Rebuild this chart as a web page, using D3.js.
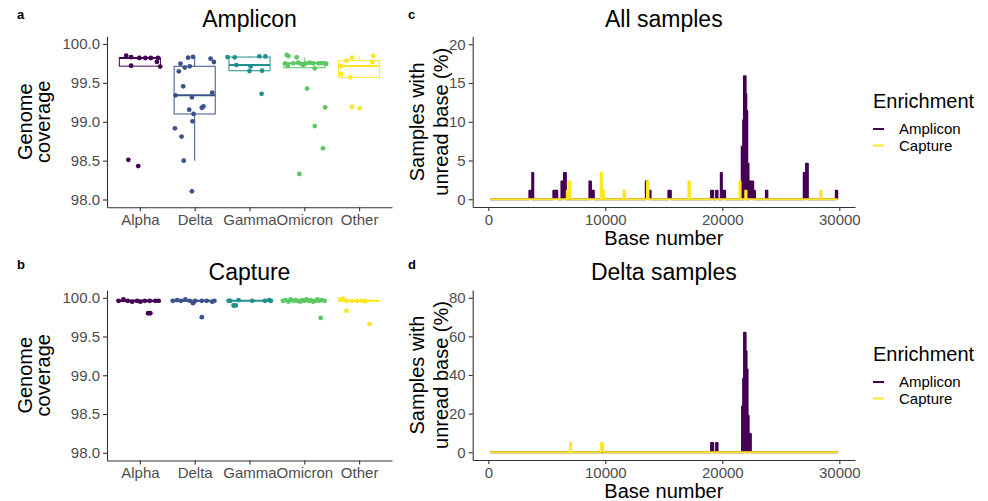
<!DOCTYPE html>
<html>
<head>
<meta charset="utf-8">
<script src="https://cdn.jsdelivr.net/npm/d3@7"></script>
<style>
  html, body { margin: 0; padding: 0; background: #fff; }
  svg { display: block; font-family: "Liberation Sans", Arial, sans-serif; }
</style>
</head>
<body>
<div id="chart"></div>
<script>
const width = 988;
const height = 501;

// Box plot data: genome coverage (%) per variant, one array per variant
const variants = ["Alpha", "Delta", "Gamma", "Omicron", "Other"];
const variantColors = ["#440154", "#3B528B", "#21908C", "#5DC863", "#FDE725"];

const ampliconCoverage = [
  [99.85, 99.83, 99.72, 99.82, 99.82, 99.82, 99.82, 99.77, 99.71, 98.51, 98.43],
  [99.824, 99.833, 99.811, 99.768, 99.747, 99.696, 99.713, 99.648, 99.455, 99.34, 99.314,
   99.374, 99.155, 99.18, 99.197, 99.10, 99.005, 98.915, 98.81, 98.50, 98.105],
  [99.832, 99.828, 99.841, 99.84, 99.729, 99.712, 99.656, 99.652, 99.359],
  [99.859, 99.845, 99.828, 99.751, 99.717, 99.751, 99.76, 99.743, 99.73, 99.751, 99.76,
   99.751, 99.687, 99.751, 99.755, 99.751, 99.745, 99.426, 99.185, 98.945, 98.658, 98.328],
  [99.786, 99.824, 99.846, 99.768, 99.717, 99.614, 99.571, 99.194, 99.173]
];
// horizontal jitter, in fractions of a category step
const ampliconJitter = [
  [-0.25, -0.16, -0.16, -0.01, 0.33, 0.20, 0.10, 0.31, 0.37, -0.21, -0.03],
  [-0.12, -0.03, 0.29, 0.35, -0.26, -0.18, -0.09, -0.29, -0.21, -0.35, -0.05,
   0.32, -0.10, 0.13, 0.16, -0.02, -0.04, -0.36, -0.24, -0.20, -0.05],
  [-0.40, -0.27, 0.18, 0.29, -0.24, 0.02, 0.23, 0.00, 0.22],
  [-0.32, -0.29, -0.14, -0.35, -0.30, -0.20, -0.11, -0.05, -0.02, 0.03, 0.10,
   0.16, 0.19, 0.26, 0.32, 0.38, 0.40, 0.05, 0.38, 0.19, 0.34, -0.09],
  [-0.23, -0.13, 0.26, 0.24, -0.33, -0.33, -0.16, -0.13, 0.01]
];

const captureCoverage = [
  [99.96, 99.98, 99.96, 99.95, 99.96, 99.95, 99.96, 99.96, 99.96, 99.96, 99.80, 99.80],
  [99.96, 99.97, 99.96, 99.98, 99.96, 99.93, 99.96, 99.96, 99.96, 99.95, 99.96, 99.75],
  [99.96, 99.90, 99.90, 99.97, 99.96, 99.96, 99.97, 99.96, 99.96],
  [99.96, 99.97, 99.95, 99.98, 99.96, 99.97, 99.96, 99.95, 99.97, 99.96, 99.98,
   99.96, 99.97, 99.95, 99.96, 99.98, 99.96, 99.97, 99.96, 99.74],
  [99.98, 99.99, 99.96, 99.96, 99.96, 99.955, 99.96, 99.83, 99.66]
];
const captureJitter = [
  [-0.39, -0.30, -0.22, -0.14, -0.05, 0.01, 0.09, 0.18, 0.28, 0.34, 0.15, 0.19],
  [-0.40, -0.32, -0.25, -0.17, -0.09, -0.03, 0.01, 0.13, 0.22, 0.32, 0.36, 0.13],
  [-0.35, -0.29, -0.25, -0.20, 0.05, 0.28, 0.36, 0.39, -0.38],
  [-0.39, -0.34, -0.29, -0.25, -0.20, -0.16, -0.12, -0.08, -0.04, 0.00, 0.04,
   0.08, 0.12, 0.16, 0.20, 0.24, 0.27, 0.32, 0.37, 0.30],
  [-0.34, -0.29, -0.23, -0.13, -0.04, 0.11, 0.05, -0.23, 0.19]
];
const coverageTicks = [98.0, 98.5, 99.0, 99.5, 100.0];

// Unread-base profiles: [start base, end base, % of samples]
const genomeStart = 150;
const genomeEnd = 29856;
const allAmpliconRegions = [
  [3500, 3730, 1.1], [3740, 3850, 3.4], [5550, 5900, 1.1], [6240, 6450, 2.3], [6460, 6640, 3.4],
  [8630, 8780, 2.3], [8790, 9030, 1.1], [13450, 13650, 2.3], [13680, 13880, 1.1], [15380, 15610, 1.1],
  [19030, 19230, 1.1], [19460, 19600, 1.1], [19860, 19970, 3.4], [20000, 20250, 1.1],
  [21650, 21760, 6.8], [21770, 21830, 10.2], [21840, 22000, 15.9], [22000, 22060, 13.6],
  [22060, 22140, 11.4], [22140, 22250, 4.6], [22250, 22650, 2.3], [22660, 22800, 1.1],
  [23720, 23860, 1.1], [26950, 27140, 3.4], [27150, 27320, 4.6], [29690, 29830, 1.1]
];
const allCaptureRegions = [
  [6700, 6850, 1.1], [6860, 7050, 2.3], [9600, 9740, 3.4], [9750, 9910, 1.1], [11540, 11700, 1.1],
  [13550, 13700, 2.3], [17090, 17240, 2.3], [21450, 21570, 2.3], [21950, 22080, 1.1], [28350, 28490, 1.1]
];
const deltaAmpliconRegions = [
  [19030, 19230, 4.8], [19460, 19600, 4.8], [21680, 21760, 23.8], [21770, 21840, 38.1],
  [21850, 22000, 61.9], [22000, 22080, 52.4], [22080, 22170, 42.9], [22170, 22260, 19.0],
  [22260, 22450, 9.5]
];
const deltaCaptureRegions = [[6980, 7090, 4.8], [9630, 9830, 4.8]];

const enrichments = ["Amplicon", "Capture"];
const enrichmentColors = ["#440154", "#FDE725"];
const allTicks = [0, 5, 10, 15, 20];
const deltaTicks = [0, 20, 40, 60, 80];
const baseTicks = [0, 10000, 20000, 30000];

const svg = d3.select("#chart")
  .append("svg")
  .attr("width", width)
  .attr("height", height);

function styleAxis(g) {
  g.select(".domain").attr("stroke", "#333").attr("stroke-width", 1.1);
  g.selectAll(".tick line").attr("stroke", "#333").attr("stroke-width", 1.1);
  g.selectAll(".tick text").attr("fill", "#4D4D4D").style("font-size", "15px");
}

function addTag(x, y, t) {
  svg.append("text").attr("x", x).attr("y", y)
    .style("font-size", "13px").style("font-weight", "bold").text(t);
}

function addTitle(x, y, t) {
  svg.append("text").attr("x", x).attr("y", y)
    .attr("text-anchor", "middle").style("font-size", "23px").text(t);
}

// two-line rotated axis title
function addYTitle(x, cy, lines, gap) {
  const t = svg.append("text")
    .attr("transform", `translate(${x},${cy}) rotate(-90)`)
    .attr("text-anchor", "middle")
    .style("font-size", "20px");
  lines.forEach((line, i) => {
    t.append("tspan").attr("x", 0).attr("y", i * gap).text(line);
  });
}

// ---- box plot panels (a, b) ----
function boxPanel(opts) {
  const x = d3.scalePoint().domain(variants).range([opts.left, opts.right]).padding(0.6);
  const y = d3.scaleLinear().domain([97.9, 100.1]).range([opts.bottom, opts.top]);
  const step = x.step();
  const bw = step * 0.75;

  svg.append("g")
    .attr("transform", `translate(${opts.left},0)`)
    .call(d3.axisLeft(y).tickValues(coverageTicks).tickFormat(d3.format(".1f")).tickSize(4).tickSizeOuter(0))
    .call(styleAxis);
  svg.append("g")
    .attr("transform", `translate(0,${opts.bottom})`)
    .call(d3.axisBottom(x).tickSize(4).tickSizeOuter(0))
    .call(styleAxis);

  variants.forEach((v, i) => {
    const vals = opts.values[i];
    const sorted = vals.slice().sort(d3.ascending);
    const q1 = d3.quantile(sorted, 0.25);
    const med = d3.quantile(sorted, 0.5);
    const q3 = d3.quantile(sorted, 0.75);
    const iqr = q3 - q1;
    const lo = d3.min(sorted.filter(d => d >= q1 - 1.5 * iqr));
    const hi = d3.max(sorted.filter(d => d <= q3 + 1.5 * iqr));
    const cx = x(v);
    const col = variantColors[i];
    const g = svg.append("g");

    g.append("line").attr("x1", cx).attr("x2", cx).attr("y1", y(q3)).attr("y2", y(hi))
      .attr("stroke", col).attr("stroke-width", 1);
    g.append("line").attr("x1", cx).attr("x2", cx).attr("y1", y(q1)).attr("y2", y(lo))
      .attr("stroke", col).attr("stroke-width", 1);
    g.append("rect")
      .attr("x", cx - bw / 2).attr("width", bw)
      .attr("y", y(q3)).attr("height", Math.max(0, y(q1) - y(q3)))
      .attr("fill", "none").attr("stroke", col).attr("stroke-width", 1);
    g.append("line").attr("x1", cx - bw / 2).attr("x2", cx + bw / 2)
      .attr("y1", y(med)).attr("y2", y(med))
      .attr("stroke", col).attr("stroke-width", 2);

    g.selectAll("circle")
      .data(vals)
      .join("circle")
      .attr("cx", (d, j) => cx + opts.jitter[i][j] * step)
      .attr("cy", d => y(d))
      .attr("r", 2.4)
      .attr("fill", col);
  });

  addTag(17, opts.tagY, opts.tag);
  addTitle((opts.left + opts.right) / 2, opts.titleY, opts.title);
  addYTitle(32, (opts.top + opts.bottom) / 2, ["Genome", "coverage"], 18);
}

boxPanel({ tag: "a", title: "Amplicon", values: ampliconCoverage, jitter: ampliconJitter,
  left: 107, right: 392, top: 36.2, bottom: 207.3, tagY: 19, titleY: 27 });
boxPanel({ tag: "b", title: "Capture", values: captureCoverage, jitter: captureJitter,
  left: 107, right: 392, top: 290, bottom: 460.5, tagY: 269, titleY: 280 });

// ---- unread-base panels (c, d) ----
function regionsToPoints(regions) {
  const pts = [[genomeStart, 0]];
  regions.forEach(([s, e, v]) => {
    pts.push([s, 0], [s, v], [e, v], [e, 0]);
  });
  pts.push([genomeEnd, 0]);
  return pts;
}

function linePanel(opts) {
  const span = genomeEnd - genomeStart;
  const x = d3.scaleLinear()
    .domain([genomeStart - 0.05 * span, genomeEnd + 0.05 * span])
    .range([opts.left, opts.right]);
  const y = d3.scaleLinear().domain(opts.yDomain).range([opts.bottom, opts.top]);

  svg.append("g")
    .attr("transform", `translate(${opts.left},0)`)
    .call(d3.axisLeft(y).tickValues(opts.yTicks).tickSize(4).tickSizeOuter(0))
    .call(styleAxis);
  svg.append("g")
    .attr("transform", `translate(0,${opts.bottom})`)
    .call(d3.axisBottom(x).tickValues(baseTicks).tickFormat(d3.format("d")).tickSize(4).tickSizeOuter(0))
    .call(styleAxis);

  const area = d3.area().x(d => x(d[0])).y0(y(0)).y1(d => y(d[1]));
  const line = d3.line().x(d => x(d[0])).y(d => y(d[1]));

  opts.series.forEach((regions, i) => {
    const pts = regionsToPoints(regions);
    svg.append("path").attr("d", area(pts)).attr("fill", enrichmentColors[i]);
    svg.append("path").attr("d", line(pts))
      .attr("fill", "none")
      .attr("stroke", enrichmentColors[i])
      .attr("stroke-width", 1.8)
      .attr("stroke-linejoin", "round");
  });

  addTag(408, opts.tagY, opts.tag);
  addTitle((opts.left + opts.right) / 2, opts.titleY, opts.title);
  addYTitle(424, (opts.top + opts.bottom) / 2, ["Samples with", "unread base (%)"], 24);
  svg.append("text")
    .attr("x", (opts.left + opts.right) / 2).attr("y", opts.bottom + 38)
    .attr("text-anchor", "middle").style("font-size", "20px").text("Base number");

  // legend
  const lg = svg.append("g").attr("transform", `translate(873,${opts.legendY})`);
  lg.append("text").attr("x", 0).attr("y", 0).style("font-size", "20px").text("Enrichment");
  enrichments.forEach((name, i) => {
    const ky = 21 + i * 16.5;
    lg.append("line").attr("x1", 0).attr("x2", 11).attr("y1", ky).attr("y2", ky)
      .attr("stroke", enrichmentColors[i]).attr("stroke-width", 2);
    lg.append("text").attr("x", 26).attr("y", ky + 5).style("font-size", "15px").text(name);
  });
}

linePanel({ tag: "c", title: "All samples", series: [allAmpliconRegions, allCaptureRegions],
  left: 472.7, right: 855, top: 36.5, bottom: 207, yDomain: [-1, 21], yTicks: allTicks,
  tagY: 19, titleY: 27, legendY: 108 });
linePanel({ tag: "d", title: "Delta samples", series: [deltaAmpliconRegions, deltaCaptureRegions],
  left: 472.7, right: 855, top: 290, bottom: 460, yDomain: [-4, 84], yTicks: deltaTicks,
  tagY: 269, titleY: 280, legendY: 361 });
</script>
</body>
</html>
